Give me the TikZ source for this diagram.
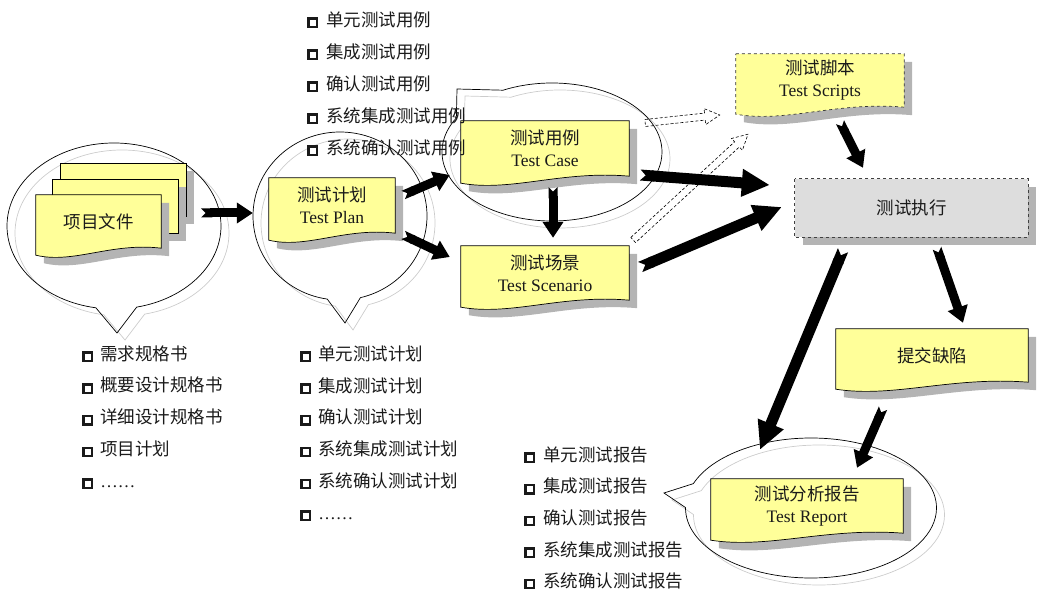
\documentclass[tikz,border=0pt]{standalone}
\usepackage{fontspec}
\setmainfont{Liberation Serif}
\newfontfamily\cjk{Noto Sans CJK SC}
\usetikzlibrary{calc,arrows.meta,shapes.callouts}

\pgfdeclarelayer{bubble}
\pgfdeclarelayer{paper}
\pgfsetlayers{bubble,paper,main}

\definecolor{paperyellow}{HTML}{FFFF99}
\definecolor{shade}{HTML}{B4B4B4}
\definecolor{execgray}{HTML}{DDDDDD}
\definecolor{ink}{HTML}{1A1A1A}

% small square bullet
\newcommand\bx{\raisebox{0.5pt}{\setlength{\fboxrule}{2.3pt}\setlength{\fboxsep}{0pt}\fbox{\rule{0pt}{6pt}\hspace{6pt}}}}

% paper sheet with wavy bottom, drawn under node #2
\newcommand\paper[2][]{%
  \begin{pgfonlayer}{paper}
  \path[doc,#1] (#2.north west) -- (#2.north east) -- (#2.south east)
    .. controls ($(#2.south west)!.6!(#2.south east)+(0,-6)$) and ($(#2.south west)!.3!(#2.south east)+(0,16)$) .. ($(#2.south west)+(0,7)$) -- cycle;
  \end{pgfonlayer}}

% dashed hollow arrow
\newcommand\hollowarrow[2]{%
  \path (#1) coordinate (hs) (#2) coordinate (he);
  \path ($(he)!15pt!(hs)$) coordinate (hb);
  \draw[hollow] ($(hs)!3.5pt!90:(he)$) -- ($(hb)!3.5pt!-90:(hs)$) -- ($(hb)!8pt!-90:(hs)$) -- (he)
    -- ($(hb)!8pt!90:(hs)$) -- ($(hb)!3.5pt!90:(hs)$) -- ($(hs)!3.5pt!-90:(he)$) -- cycle;}

\begin{document}
\begin{tikzpicture}[x=1pt,y=-1pt,
  txt/.style={font=\fontsize{17.5}{22}\selectfont, text=ink, align=center, inner sep=0pt},
  item/.style={font=\fontsize{17.5}{20}\selectfont, text=ink, anchor=west, inner sep=0pt, text height=15pt, text depth=2.5pt},
  doc/.style={fill=paperyellow, draw=black, line width=0.7pt, preaction={fill=shade, transform canvas={shift={(8pt,-8pt)}}}},
  bubble/.style={ellipse callout, draw=black, line width=0.7pt, inner sep=0pt, preaction={draw=black!20, transform canvas={shift={(8pt,-7pt)}}}},
  fat/.style={line width=9pt, {Triangle Cap[reversed]}-{Triangle[length=16pt,width=20pt]}},
  fatter/.style={line width=11pt, {Triangle Cap[reversed]}-{Triangle[length=28pt,width=26pt]}},
  hollow/.style={draw=black, line width=0.6pt, dash pattern=on 3pt off 2pt}
]
\useasboundingbox (0,0) rectangle (1047,601);

% speech bubbles
\begin{pgfonlayer}{bubble}
\node[bubble, minimum width=214pt, minimum height=166pt, callout absolute pointer={(117,333)}, callout pointer arc=22] (c1) at (114,226) {};
\node[bubble, minimum width=174pt, minimum height=168pt, callout absolute pointer={(345,323)}, callout pointer arc=22] (c2) at (340,216) {};
\node[bubble, minimum width=220pt, minimum height=138pt, callout absolute pointer={(457,89)}, callout pointer arc=34] (c3) at (552,152) {};
\node[bubble, minimum width=251pt, minimum height=140pt, callout absolute pointer={(664,493)}, callout pointer arc=20] (c4) at (811,508) {};
\end{pgfonlayer}

% sheets
\node[txt, minimum width=125pt, minimum height=53pt] (proj) at (98.5,221.5) {\cjk 项目文件};
\begin{pgfonlayer}{paper}
\path[doc] (60,163) rectangle (186,216);
\path[doc] (52,179) rectangle (178,233);
\end{pgfonlayer}
\paper{proj}

\node[txt, minimum width=126pt, minimum height=55pt] (tp) at (332,205.5) {{\cjk 测试计划}\\Test Plan};
\paper{tp}
\node[txt, minimum width=168pt, minimum height=55pt] (tc) at (545,148.5) {{\cjk 测试用例}\\Test Case};
\paper{tc}
\node[txt, minimum width=168pt, minimum height=54pt] (ts) at (545,273) {{\cjk 测试场景}\\Test Scenario};
\paper{ts}
\node[txt, minimum width=168pt, minimum height=53pt] (scr) at (820,80.5) {{\cjk 测试脚本}\\Test Scripts};
\paper[dashed, draw=black!80]{scr}
\node[txt, minimum width=233pt, minimum height=58pt] (exec) at (911.5,208) {\cjk 测试执行};
\begin{pgfonlayer}{paper}
\path[doc, fill=execgray, dashed, draw=black!75] (exec.north west) rectangle (exec.south east);
\end{pgfonlayer}
\node[txt, minimum width=192pt, minimum height=53pt] (bug) at (932,355.5) {\cjk 提交缺陷};
\paper{bug}
\node[txt, minimum width=192pt, minimum height=54pt] (rep) at (807,506) {{\cjk 测试分析报告}\\Test Report};
\paper{rep}

% lists
\foreach \t [count=\i from 0] in {单元测试用例,集成测试用例,确认测试用例,系统集成测试用例,系统确认测试用例}
  \node[item] (case\i) at (307,20+32*\i) {\bx\hspace{8.5pt}{\cjk\t}};
\foreach \t [count=\i from 0] in {需求规格书,概要设计规格书,详细设计规格书,项目计划}
  \node[item] (req\i) at (82,354+31.75*\i) {\bx\hspace{7.5pt}{\cjk\t}};
\node[item] (req4) at (82,481) {\bx\hspace{7.5pt}……};
\foreach \t [count=\i from 0] in {单元测试计划,集成测试计划,确认测试计划,系统集成测试计划,系统确认测试计划}
  \node[item] (plan\i) at (300,354+31.8*\i) {\bx\hspace{7.5pt}{\cjk\t}};
\node[item] (plan5) at (300,513) {\bx\hspace{7.5pt}……};
\foreach \t [count=\i from 0] in {单元测试报告,集成测试报告,确认测试报告,系统集成测试报告,系统确认测试报告}
  \node[item] (rpt\i) at (524,455+31.6*\i) {\bx\hspace{8.5pt}{\cjk\t}};

% arrows
\draw[fat] ($(proj.east)+(40,-8.5)$) -- ($(tp.west)+(-16,7.5)$);
\draw[fat] ($(tp.east)+(8,-10.5)$) -- ($(tc.west)+(-11,26.5)$);
\draw[fat] ($(tp.east)+(8,29.5)$) -- ($(ts.west)+(-11,-16)$);
\draw[fat] ($(tc.south)+(8,11)$) -- ($(ts.north)+(8,-8)$);
\draw[fatter] ($(tc.east)+(11,26.5)$) -- ($(exec.west)+(-25,-23)$);
\draw[fatter] ($(ts.east)+(11,-6)$) -- ($(exec.west)+(-13,-1)$);
\draw[fat] ($(scr.south)+(20,15)$) -- ($(exec.north)+(-48.5,-11)$);
\draw[fatter] ($(exec.south)+(-68.5,13)$) -- ($(rep.north)+(-47,-29)$);
\draw[fat] ($(exec.south)+(25.5,11)$) -- ($(bug.north)+(31,-6)$);
\draw[fat] ($(bug.south)+(-49,26)$) -- ($(rep.north)+(50,-11)$);
\hollowarrow{$(tc.east)+(16,-25.5)$}{$(scr.west)+(-16,34.5)$}
\hollowarrow{$(ts.east)+(4,-33)$}{$(scr.south)+(-72,27)$}
\end{tikzpicture}
\end{document}
